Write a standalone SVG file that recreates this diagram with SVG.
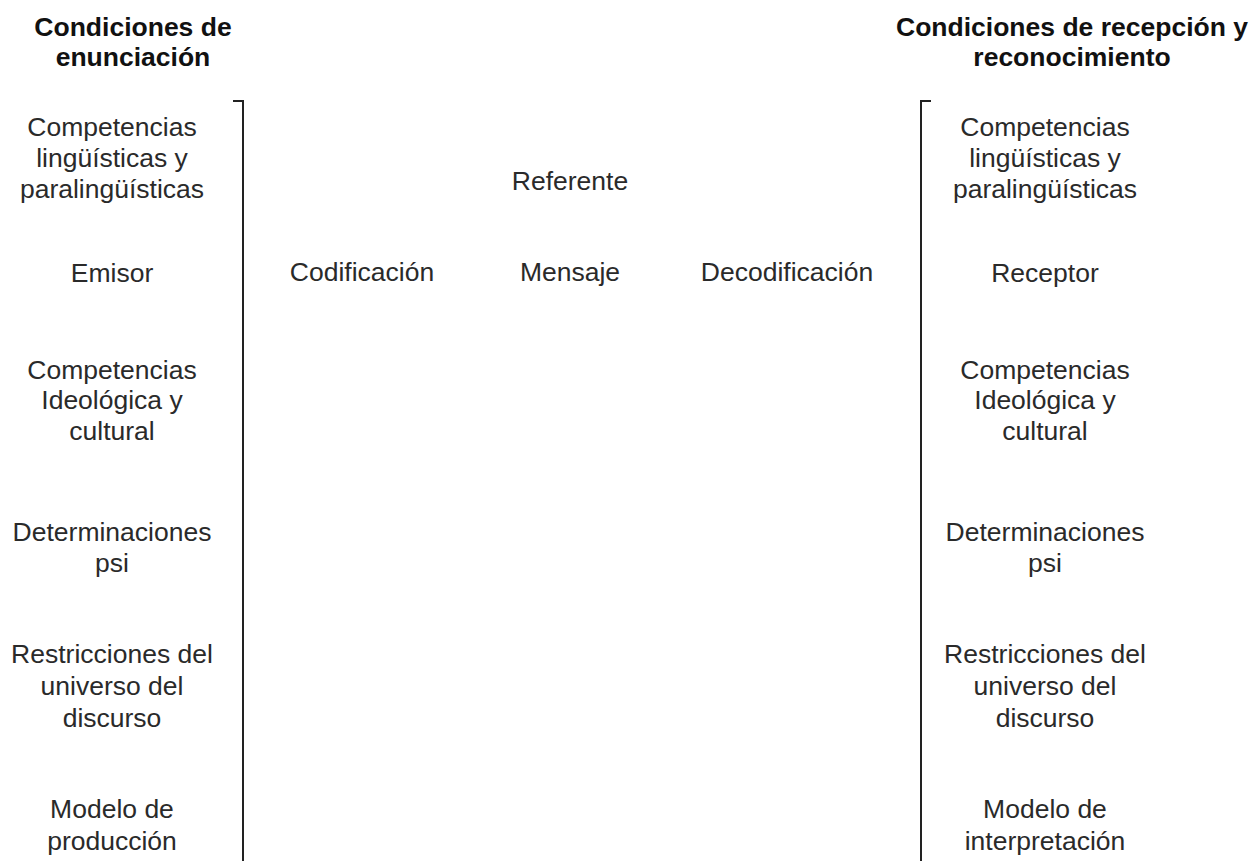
<svg xmlns="http://www.w3.org/2000/svg" width="1255" height="861" viewBox="0 0 1255 861">
<style>
text{font-family:"Liberation Sans",Arial,sans-serif;font-size:26.5px;fill:#2a2a2a;text-anchor:middle}
.h{font-weight:bold;font-size:26.5px;fill:#111}
.br{fill:none;stroke:#222;stroke-width:2}
</style>
<rect width="1255" height="861" fill="#fff"/>
<g id="header-left"><text class="h" x="133" y="36">Condiciones de</text><text class="h" x="133" y="66">enunciación</text></g>
<g id="header-right"><text class="h" x="1072" y="36">Condiciones de recepción y</text><text class="h" x="1072" y="66">reconocimiento</text></g>
<g id="connectors">
<path class="br" d="M233 101H243V861"/>
<path class="br" d="M931 101H921V861"/>
</g>
<g id="l1"><text x="112" y="136">Competencias</text><text x="112" y="167">lingüísticas y</text><text x="112" y="198">paralingüísticas</text></g>
<g id="l2"><text x="112" y="282">Emisor</text></g>
<g id="l3"><text x="112" y="379">Competencias</text><text x="112" y="409">Ideológica y</text><text x="112" y="440">cultural</text></g>
<g id="l4"><text x="112" y="541">Determinaciones</text><text x="112" y="572">psi</text></g>
<g id="l5"><text x="112" y="663">Restricciones del</text><text x="112" y="695">universo del</text><text x="112" y="727">discurso</text></g>
<g id="l6"><text x="112" y="818">Modelo de</text><text x="112" y="850">producción</text></g>
<g id="referente"><text x="570" y="190">Referente</text></g>
<g id="codificacion"><text x="362" y="281">Codificación</text></g>
<g id="mensaje"><text x="570" y="281">Mensaje</text></g>
<g id="decodificacion"><text x="787" y="281">Decodificación</text></g>
<g id="r1"><text x="1045" y="136">Competencias</text><text x="1045" y="167">lingüísticas y</text><text x="1045" y="198">paralingüísticas</text></g>
<g id="r2"><text x="1045" y="282">Receptor</text></g>
<g id="r3"><text x="1045" y="379">Competencias</text><text x="1045" y="409">Ideológica y</text><text x="1045" y="440">cultural</text></g>
<g id="r4"><text x="1045" y="541">Determinaciones</text><text x="1045" y="572">psi</text></g>
<g id="r5"><text x="1045" y="663">Restricciones del</text><text x="1045" y="695">universo del</text><text x="1045" y="727">discurso</text></g>
<g id="r6"><text x="1045" y="818">Modelo de</text><text x="1045" y="850">interpretación</text></g>
</svg>
